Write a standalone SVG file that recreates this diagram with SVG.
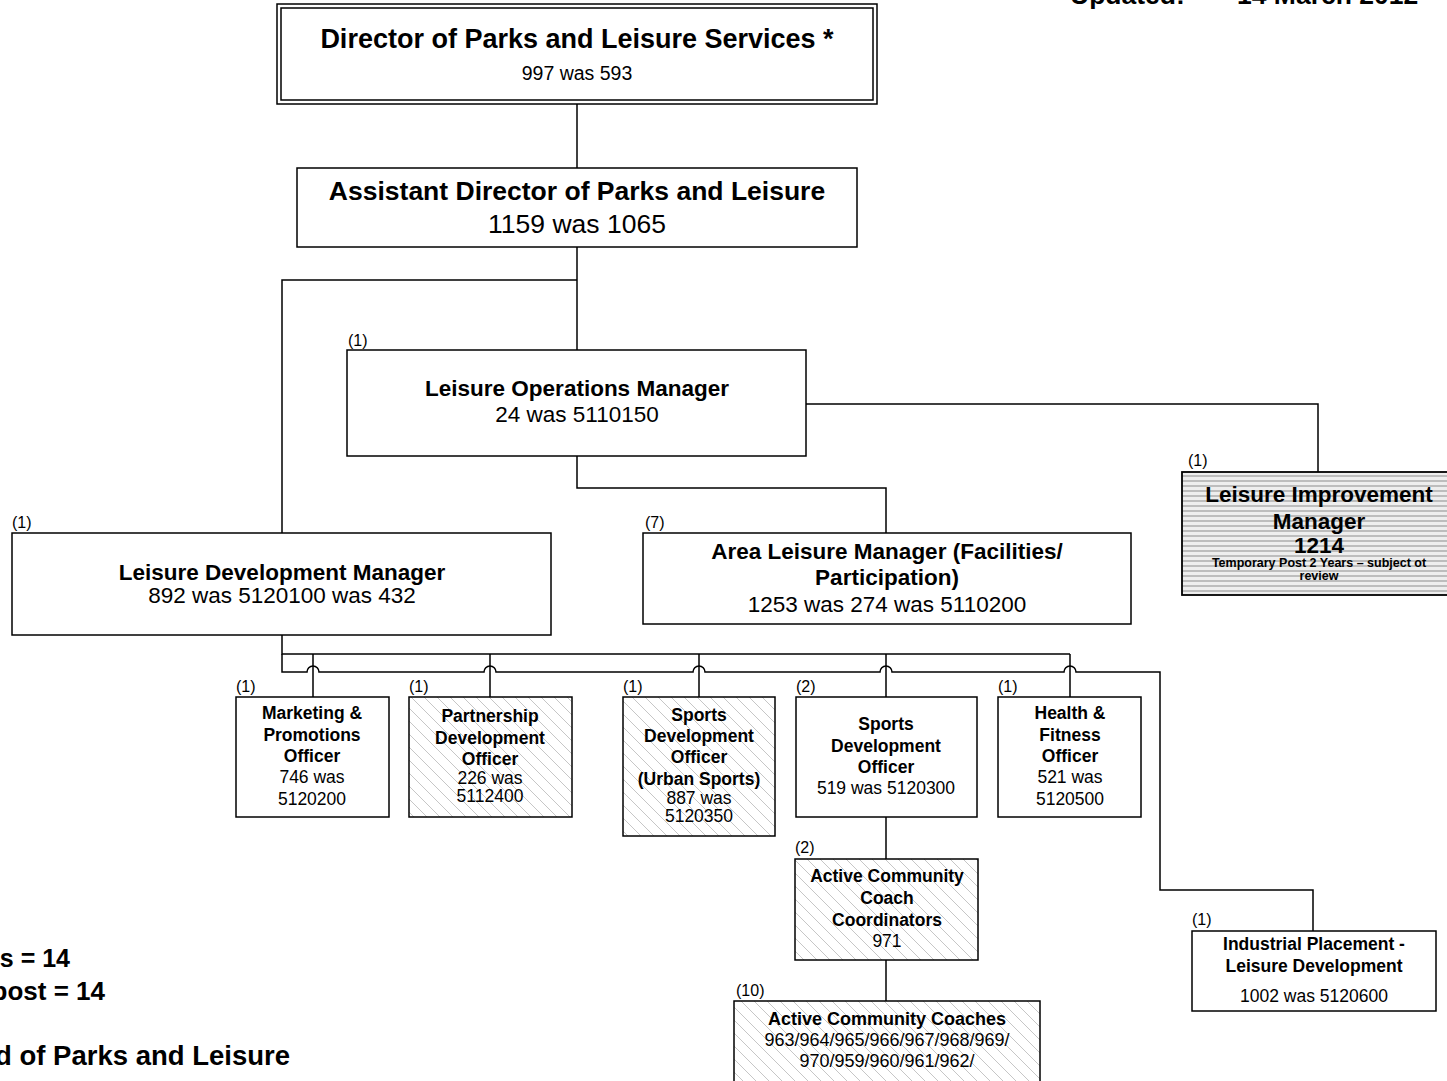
<svg xmlns="http://www.w3.org/2000/svg" width="1447" height="1081" viewBox="0 0 1447 1081">
<defs>
<pattern id="hatch" patternUnits="userSpaceOnUse" width="13" height="13">
<rect width="13" height="13" fill="#ffffff"/>
<path d="M-3,-3 L16,16 M-3,10 L3,16 M10,-3 L16,3" stroke="#c6c6c6" stroke-width="1"/>
</pattern>
<pattern id="stripes" patternUnits="userSpaceOnUse" width="8" height="5">
<rect width="8" height="5" fill="#eeeeee"/>
<rect y="0" width="8" height="2" fill="#bdbdbd"/>
</pattern>
</defs>
<style>
text{font-family:"Liberation Sans",Arial,sans-serif;fill:#000}
.b{font-weight:bold}
.c{text-anchor:middle}
.box{fill:#fff;stroke:#000;stroke-width:1.5}
.hb{fill:url(#hatch);stroke:#000;stroke-width:1.5}
.ln{fill:none;stroke:#000;stroke-width:1.5}
.n{font-size:16px}
.t1{font-size:26.5px}
.t2{font-size:22.5px}
.t3{font-size:17.5px}
</style>
<rect width="1447" height="1081" fill="#fff"/>

<g id="connectors" class="ln">
<path d="M577,103 V168"/>
<path d="M577,247 V350"/>
<path d="M577,280 H282 V533"/>
<path d="M806,404 H1318 V472"/>
<path d="M577,456 V488 H886 V533"/>
<path d="M282,635 V654 H1070"/>
<path d="M313,654 V697 M490,654 V697 M699,654 V697 M886,654 V697 M1070,654 V697"/>
<path d="M282,654 V672 H307 a6,6 0 0 1 12,0 H484 a6,6 0 0 1 12,0 H693 a6,6 0 0 1 12,0 H880 a6,6 0 0 1 12,0 H1064 a6,6 0 0 1 12,0 H1160 V890 H1313 V931"/>
<path d="M886,817 V859"/>
<path d="M886,960 V1001"/>
</g>

<g id="updated">
<text class="b" x="1070" y="4" style="font-size:26.5px">Updated:</text>
<text class="b" x="1237" y="4" style="font-size:26.5px">14 March 2012</text>
</g>

<g id="director">
<rect x="277" y="4" width="600" height="100" fill="#fff" stroke="#000" stroke-width="1.5"/>
<rect x="281" y="8" width="592" height="92" fill="none" stroke="#000" stroke-width="1.5"/>
<text class="b c" x="577" y="48" style="font-size:27px">Director of Parks and Leisure Services *</text>
<text class="c" x="577" y="80" style="font-size:19.5px">997 was 593</text>
</g>

<g id="assistant-director">
<rect class="box" x="297" y="168" width="560" height="79"/>
<text class="b c t1" x="577" y="200">Assistant Director of Parks and Leisure</text>
<text class="c t1" x="577" y="233">1159 was 1065</text>
</g>

<g id="leisure-operations-manager">
<text class="n" x="348" y="346">(1)</text>
<rect class="box" x="347" y="350" width="459" height="106"/>
<text class="b c t2" x="577" y="396">Leisure Operations Manager</text>
<text class="c t2" x="577" y="422">24 was 5110150</text>
</g>

<g id="leisure-improvement-manager">
<text class="n" x="1188" y="466">(1)</text>
<rect x="1182" y="472" width="275" height="123" fill="url(#stripes)" stroke="#000" stroke-width="1.8"/>
<text class="b c t2" x="1319" y="502">Leisure Improvement</text>
<text class="b c t2" x="1319" y="529">Manager</text>
<text class="b c t2" x="1319" y="553">1214</text>
<text class="b c" x="1319" y="567" style="font-size:12.5px">Temporary Post 2 Years – subject ot</text>
<text class="b c" x="1319" y="580" style="font-size:12.5px">review</text>
</g>

<g id="leisure-development-manager">
<text class="n" x="12" y="528">(1)</text>
<rect class="box" x="12" y="533" width="539" height="102"/>
<text class="b c t2" x="282" y="580">Leisure Development Manager</text>
<text class="c t2" x="282" y="603">892 was 5120100 was 432</text>
</g>

<g id="area-leisure-manager">
<text class="n" x="645" y="528">(7)</text>
<rect class="box" x="643" y="533" width="488" height="91"/>
<text class="b c t2" x="887" y="559">Area Leisure Manager (Facilities/</text>
<text class="b c t2" x="887" y="585">Participation)</text>
<text class="c t2" x="887" y="612">1253 was 274 was 5110200</text>
</g>

<g id="marketing-officer">
<text class="n" x="236" y="692">(1)</text>
<rect class="box" x="236" y="697" width="153" height="120"/>
<text class="b c t3" x="312" y="719">Marketing &amp;</text>
<text class="b c t3" x="312" y="741">Promotions</text>
<text class="b c t3" x="312" y="762">Officer</text>
<text class="c t3" x="312" y="783">746 was</text>
<text class="c t3" x="312" y="805">5120200</text>
</g>

<g id="partnership-officer">
<text class="n" x="409" y="692">(1)</text>
<rect class="hb" x="409" y="697" width="163" height="120"/>
<text class="b c t3" x="490" y="722">Partnership</text>
<text class="b c t3" x="490" y="744">Development</text>
<text class="b c t3" x="490" y="765">Officer</text>
<text class="c t3" x="490" y="784">226 was</text>
<text class="c t3" x="490" y="802">5112400</text>
</g>

<g id="sports-development-officer-urban">
<text class="n" x="623" y="692">(1)</text>
<rect class="hb" x="623" y="697" width="152" height="139"/>
<text class="b c t3" x="699" y="721">Sports</text>
<text class="b c t3" x="699" y="742">Development</text>
<text class="b c t3" x="699" y="763">Officer</text>
<text class="b c t3" x="699" y="785">(Urban Sports)</text>
<text class="c t3" x="699" y="804">887 was</text>
<text class="c t3" x="699" y="822">5120350</text>
</g>

<g id="sports-development-officer">
<text class="n" x="796" y="692">(2)</text>
<rect class="box" x="796" y="697" width="181" height="120"/>
<text class="b c t3" x="886" y="730">Sports</text>
<text class="b c t3" x="886" y="752">Development</text>
<text class="b c t3" x="886" y="773">Officer</text>
<text class="c t3" x="886" y="794">519 was 5120300</text>
</g>

<g id="health-fitness-officer">
<text class="n" x="998" y="692">(1)</text>
<rect class="box" x="998" y="697" width="143" height="120"/>
<text class="b c t3" x="1070" y="719">Health &amp;</text>
<text class="b c t3" x="1070" y="741">Fitness</text>
<text class="b c t3" x="1070" y="762">Officer</text>
<text class="c t3" x="1070" y="783">521 was</text>
<text class="c t3" x="1070" y="805">5120500</text>
</g>

<g id="coach-coordinators">
<text class="n" x="795" y="853">(2)</text>
<rect class="hb" x="795" y="859" width="183" height="101"/>
<text class="b c t3" x="887" y="882">Active Community</text>
<text class="b c t3" x="887" y="904">Coach</text>
<text class="b c t3" x="887" y="926">Coordinators</text>
<text class="c t3" x="887" y="947">971</text>
</g>

<g id="community-coaches">
<text class="n" x="736" y="996">(10)</text>
<rect class="hb" x="734" y="1001" width="306" height="95"/>
<text class="b c" x="887" y="1025" style="font-size:18px">Active Community Coaches</text>
<text class="c" x="887" y="1046" style="font-size:18px">963/964/965/966/967/968/969/</text>
<text class="c" x="887" y="1067" style="font-size:18px">970/959/960/961/962/</text>
</g>

<g id="industrial-placement">
<text class="n" x="1192" y="925">(1)</text>
<rect class="box" x="1192" y="931" width="244" height="80"/>
<text class="b c t3" x="1314" y="950">Industrial Placement -</text>
<text class="b c t3" x="1314" y="972">Leisure Development</text>
<text class="c" x="1314" y="1002" style="font-size:17.5px">1002 was 5120600</text>
</g>

<g id="notes">
<text class="b" x="70" y="967" text-anchor="end" style="font-size:25px">s = 14</text>
<text class="b" x="105" y="1000" text-anchor="end" style="font-size:26px">post = 14</text>
<text class="b" x="290" y="1065" text-anchor="end" style="font-size:27.5px">d of Parks and Leisure</text>
</g>
</svg>
